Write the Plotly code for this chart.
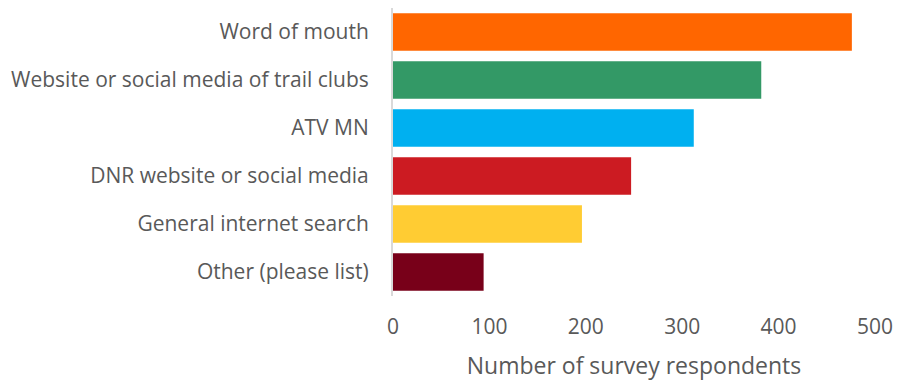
import plotly.graph_objects as go

categories = [
    "Word of mouth",
    "Website or social media of trail clubs",
    "ATV MN",
    "DNR website or social media",
    "General internet search",
    "Other (please list)",
]
respondents = [476, 382, 312, 247, 196, 94]
bar_colors = ["#FF6600", "#339966", "#00B0F0", "#CC1B22", "#FFCC33", "#780019"]
x_ticks = [0, 100, 200, 300, 400, 500]

fig = go.Figure(
    go.Bar(
        x=respondents,
        y=categories,
        orientation="h",
        marker=dict(color=bar_colors, line=dict(width=0)),
        hoverinfo="x+y",
    )
)

font_family = "Open Sans, Noto Sans, sans-serif"
text_color = "#595959"

fig.update_layout(
    width=902,
    height=381,
    margin=dict(l=393, r=27, t=8, b=85),
    paper_bgcolor="white",
    plot_bgcolor="white",
    bargap=0.22,
    showlegend=False,
    font=dict(family=font_family, color=text_color, size=21),
    xaxis=dict(
        range=[0, 500],
        tickvals=x_ticks,
        showgrid=False,
        zeroline=False,
        showline=False,
        ticks="",
        ticklabelstandoff=16,
        tickfont=dict(size=21, color=text_color),
        title=dict(
            text="Number of survey respondents",
            font=dict(size=23, color=text_color),
            standoff=18,
        ),
        fixedrange=True,
    ),
    yaxis=dict(
        autorange="reversed",
        showgrid=False,
        zeroline=False,
        showline=True,
        linecolor="#D9D9D9",
        linewidth=2,
        ticks="",
        ticklabelstandoff=18,
        tickfont=dict(size=21, color=text_color),
        fixedrange=True,
    ),
)

fig.write_html("out.html")
